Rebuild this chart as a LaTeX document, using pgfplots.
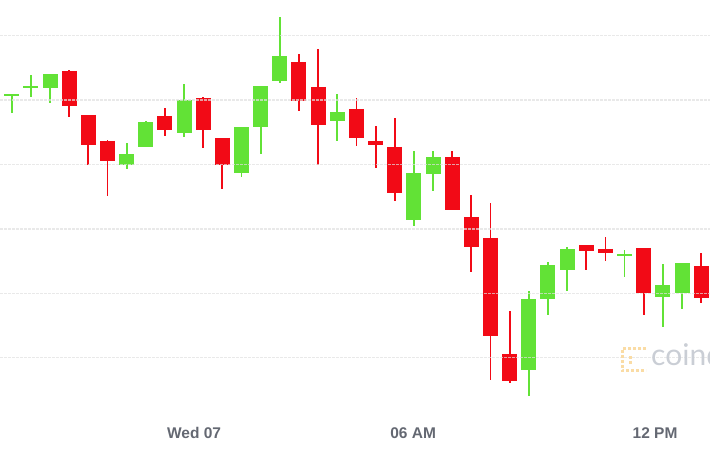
\documentclass[border=0pt]{standalone}
\usepackage{fontspec}
\setmainfont{Liberation Sans}
\newfontfamily\wmfont{Lato}
\usepackage{pgfplots}
\pgfplotsset{compat=1.18}
\usepackage{pgfplotstable}
\definecolor{cgreen}{RGB}{98,226,54}
\definecolor{cred}{RGB}{242,10,22}
\definecolor{lblgray}{RGB}{100,104,114}
\definecolor{gridgray}{RGB}{224,224,224}
\definecolor{wmgray}{RGB}{202,206,213}
\definecolor{logoor}{RGB}{250,220,165}

% k, open, high, low, close (pixel-derived price units)
\pgfplotstableread{
k o h l c
-1 -117 -98 -117 -100
0 -96 -94 -113 -94
1 -88 -75 -97 -86
2 -88 -74 -103 -74
6 -165 -143 -169 -154
7 -147 -121 -147 -122
9 -133 -84 -137 -100
12 -173 -127 -177 -127
13 -127 -86 -154 -86
14 -81 -17 -83 -56
17 -121 -94 -141 -112
21 -220 -151 -226 -173
22 -174 -151 -191 -157
27 -370 -291 -396 -299
28 -299 -262 -315 -265
29 -270 -247 -291 -249
32 -256 -250 -277 -254
34 -297 -264 -327 -285
35 -293 -263 -309 -263
}\greens

\pgfplotstableread{
k o h l c
3 -71 -70 -117 -106
4 -115 -115 -165 -145
5 -141 -140 -196 -161
8 -116 -108 -136 -130
10 -98 -97 -148 -130
11 -138 -138 -189 -165
15 -62 -54 -111 -101
16 -87 -49 -165 -125
18 -109 -98 -146 -138
19 -141 -126 -168 -145
20 -147 -118 -201 -193
23 -157 -151 -210 -210
24 -217 -195 -272 -247
25 -238 -203 -380 -336
26 -354 -311 -383 -381
30 -245 -245 -270 -251
31 -249 -237 -261 -253
33 -248 -248 -315 -293
36 -266 -253 -303 -298
}\reds

\begin{document}
\begin{tikzpicture}
\begin{axis}[
  scale only axis, width=710pt, height=458pt,
  xmin=-0.611, xmax=36.46, ymin=-458, ymax=0,
  axis line style={draw=none}, tick style={draw=none},
  xtick={9.52,20.96,33.59}, xticklabels={Wed 07,06 AM,12 PM},
  xticklabel style={anchor=center, yshift=25pt,
    font=\fontsize{15.5}{18}\selectfont\bfseries, text=lblgray},
  ytick={-357.7,-293.3,-229,-164.3,-100,-35.7}, yticklabels={},
  ymajorgrids,
  major grid style={draw=gridgray, line width=1.2pt, opacity=0.7,
    dash pattern=on 3pt off 1pt},
  axis on top,
]
\addplot[cgreen, line width=1.8pt, -, quiver={u=0, v=\thisrow{h}-\thisrow{l}}]
  table[x=k, y=l] {\greens};
\addplot[cgreen, line width=15pt, -, quiver={u=0, v=\thisrow{c}-\thisrow{o}}]
  table[x=k, y=o] {\greens};
\addplot[cred, line width=1.8pt, -, quiver={u=0, v=\thisrow{h}-\thisrow{l}}]
  table[x=k, y=l] {\reds};
\addplot[cred, line width=15pt, -, quiver={u=0, v=\thisrow{c}-\thisrow{o}}]
  table[x=k, y=o] {\reds};
\end{axis}
\draw[logoor, line width=3pt, dash pattern=on 3pt off 2pt]
  ([shift={(646pt,-349pt)}]current axis.north west) -- ++(-24pt,0) -- ++(0,-22pt) -- ++(24pt,0);
\draw[logoor, line width=3pt, dash pattern=on 3pt off 2pt]
  ([shift={(630pt,-356pt)}]current axis.north west) -- ++(0,-8pt);
\node[anchor=base west, text=wmgray, font=\wmfont\fontsize{30}{30}\selectfont, inner sep=0]
  at ([shift={(651pt,-366pt)}]current axis.north west) {coindesk};
\pgfresetboundingbox
\path[use as bounding box] (current axis.south west) rectangle (current axis.north east);
\end{tikzpicture}
\end{document}
